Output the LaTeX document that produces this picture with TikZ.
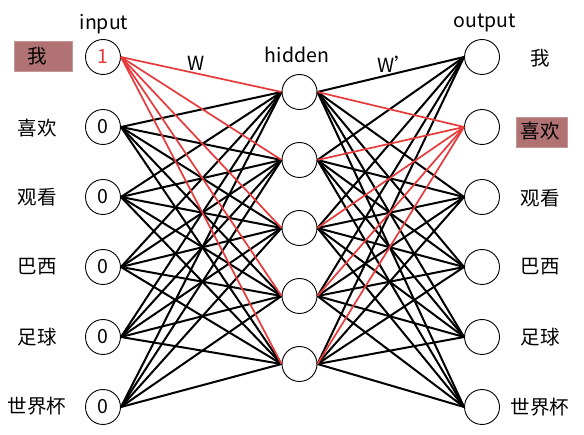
\documentclass[tikz,border=0pt]{standalone}
\usepackage{fontspec}
\setmainfont{Noto Sans CJK SC}
\definecolor{myred}{RGB}{232,58,58}
\definecolor{boxfill}{RGB}{176,114,114}
\definecolor{boxline}{RGB}{196,150,150}
\begin{document}
\begin{tikzpicture}[x=1pt,y=-1pt,
  font=\fontsize{19.5}{22}\selectfont,
  neuron/.style={circle,draw,line width=0.9pt,minimum size=35pt,inner sep=0pt,fill=white},
  blk/.style={line width=2pt,black},
  rd/.style={line width=1.7pt,myred},
  lbl/.style={inner sep=0pt,anchor=center},
  hl/.style={fill=boxfill,draw=boxline,line width=0.8pt}]
\useasboundingbox (0,0) rectangle (584,435);
% highlight boxes
\path[hl] (14,41) rectangle (72,71);
\path[hl] (516,117) rectangle (567,147);
% input nodes
\node[neuron,text=myred] (i1) at (103,57) {1};
\node[neuron] (i2) at (103,127) {0};
\node[neuron] (i3) at (103,197) {0};
\node[neuron] (i4) at (103,267) {0};
\node[neuron] (i5) at (103,337) {0};
\node[neuron] (i6) at (103,407) {0};
% hidden nodes
\node[neuron] (h1) at (299.5,92) {};
\node[neuron] (h2) at (299.5,160) {};
\node[neuron] (h3) at (299.5,228) {};
\node[neuron] (h4) at (299.5,296) {};
\node[neuron] (h5) at (299.5,364) {};
% output nodes
\node[neuron] (o1) at (482,57) {};
\node[neuron] (o2) at (482,127) {};
\node[neuron] (o3) at (482,197) {};
\node[neuron] (o4) at (482,267) {};
\node[neuron] (o5) at (482,337) {};
\node[neuron] (o6) at (482,407) {};
% black connections
\foreach \i in {2,...,6}{
  \foreach \h in {1,...,5}{
    \draw[blk] (i\i.east) -- (h\h.west);
  }
}
\foreach \h in {1,...,5}{
  \foreach \o in {1,3,4,5,6}{
    \draw[blk] (h\h.east) -- (o\o.west);
  }
}
% red connections
\foreach \h in {1,...,5}{
  \draw[rd] (i1.east) -- (h\h.west);
  \draw[rd] (h\h.east) -- (o2.west);
}
% layer labels
\node[lbl] (tin) at (104,24) {input};
\node[lbl] (thid) at (297,55) {hidden};
\node[lbl] (tout) at (485,23) {output};
\node[lbl] (tw) at (196,63) {W};
\node[lbl] (tw2) at (396,64) {W’};
% word labels left
\node[lbl] (l1) at (37,56) {我};
\node[lbl] (l2) at (37,128) {喜欢};
\node[lbl] (l3) at (37,197) {观看};
\node[lbl] (l4) at (37,267) {巴西};
\node[lbl] (l5) at (37,337) {足球};
\node[lbl] (l6) at (37,406) {世界杯};
% word labels right
\node[lbl] (r1) at (540,58) {我};
\node[lbl] (r2) at (540,131) {喜欢};
\node[lbl] (r3) at (540,198) {观看};
\node[lbl] (r4) at (540,267) {巴西};
\node[lbl] (r5) at (540,337) {足球};
\node[lbl] (r6) at (540,407) {世界杯};
\end{tikzpicture}
\end{document}
